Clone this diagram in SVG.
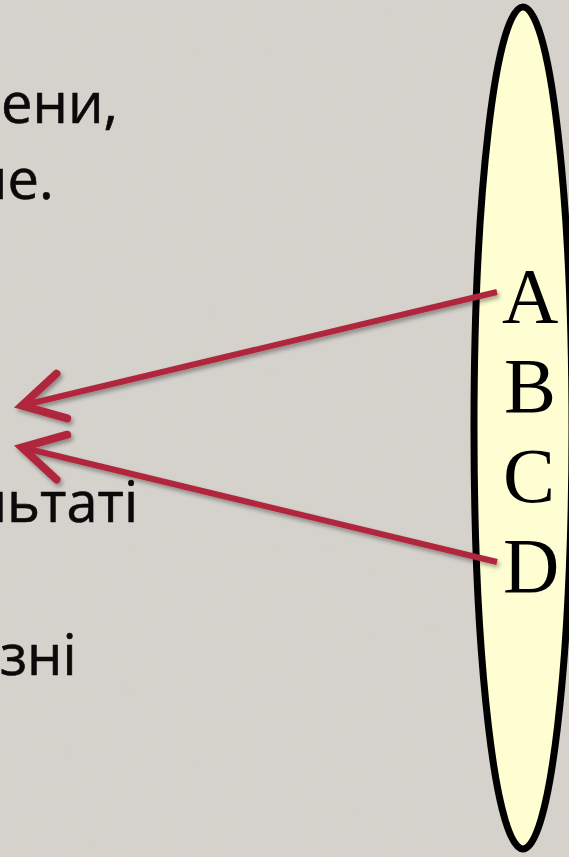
<svg xmlns="http://www.w3.org/2000/svg" width="569" height="857" viewBox="0 0 569 857">
<style>
.txt{font-family:"Open Sans","Noto Sans",sans-serif;font-size:56px;fill:#0a0a0a;stroke:#0a0a0a;stroke-width:0.6}
.lbl{font-family:"Liberation Serif","Times New Roman",serif;font-size:78px;fill:#000}
.conn{stroke:#b0263c;stroke-width:6;fill:none;stroke-linecap:butt}
</style>
<defs>
<filter id="tex" x="0" y="0" width="100%" height="100%">
<feTurbulence type="fractalNoise" baseFrequency="0.05" numOctaves="3" seed="4" result="n"/>
<feColorMatrix in="n" type="matrix" values="0 0 0 0 0.55  0 0 0 0 0.55  0 0 0 0 0.53  0 0 0 0.12 0" result="c"/>
<feComposite in="c" in2="SourceGraphic" operator="over"/>
</filter>
<filter id="sh" x="-10%" y="-10%" width="130%" height="130%">
<feDropShadow dx="2" dy="3" stdDeviation="2" flood-color="#000" flood-opacity="0.35"/>
</filter>
<marker id="ah" markerUnits="userSpaceOnUse" orient="auto" refX="0" refY="0" markerWidth="60" markerHeight="60" overflow="visible">
<path d="M-43,-23 L-2,0 L-43,23" fill="none" stroke="#b0263c" stroke-width="8" stroke-linejoin="miter" stroke-miterlimit="10" stroke-linecap="round"/>
</marker>
</defs>
<rect width="569" height="857" fill="#d6d3cd" filter="url(#tex)"/>
<g id="text">
<text class="txt" x="1" y="123">ени,</text>
<text class="txt" x="-28" y="199">не.</text>
<text class="txt" x="-25" y="522">льтаті</text>
<text class="txt" x="0" y="675">зні</text>
</g>
<g id="oval">
<ellipse cx="523" cy="428" rx="49" ry="421" fill="#fefed2" stroke="#000" stroke-width="7"/>
</g>
<g id="connectors" filter="url(#sh)">
<line class="conn" x1="497" y1="292" x2="20" y2="406" marker-end="url(#ah)"/>
<line class="conn" x1="497" y1="562" x2="20" y2="447" marker-end="url(#ah)"/>
</g>
<g id="labels">
<text class="lbl" x="502" y="322">A</text>
<text class="lbl" x="504" y="412">B</text>
<text class="lbl" x="503" y="502">C</text>
<text class="lbl" x="503" y="592">D</text>
</g>
</svg>
